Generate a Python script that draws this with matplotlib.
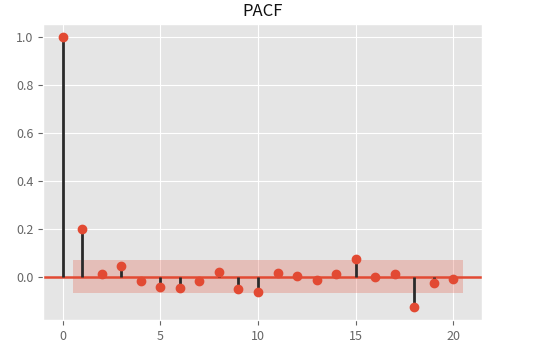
import numpy as np
import matplotlib
matplotlib.use('Agg')
import matplotlib.pyplot as plt

plt.style.use('ggplot')
plt.rcParams['font.family'] = ['Noto Sans CJK SC', 'DejaVu Sans']
plt.rcParams['axes.unicode_minus'] = False

lags = np.arange(21)
pacf = [1.0, 0.199, 0.010, 0.045, -0.017, -0.042, -0.046, -0.017, 0.022, -0.052,
        -0.063, 0.017, 0.004, -0.011, 0.010, 0.073, -0.001, 0.010, -0.127, -0.025, -0.007]
conf = 0.069

fig = plt.figure(figsize=(5.42, 3.55), dpi=100)
ax = fig.add_axes([0.080, 0.0986, 0.810, 0.834])

ax.vlines(lags, 0, pacf, colors='#2a2a2a', lw=2.0, zorder=2)
ax.axhline(0, color='#E24A33', lw=1.8, zorder=1)
ax.plot(lags, pacf, 'o', color='#E24A33', ms=6, zorder=3)
band_x = np.array([0.5, 20.5])
ax.fill_between(band_x, -conf, conf, color='#E24A33', alpha=0.25, lw=0, zorder=1)

ax.set_xlim(-1, 21.5)
ax.set_ylim(-0.18, 1.056)
ax.set_xticks([0, 5, 10, 15, 20])
ax.set_yticks([0.0, 0.2, 0.4, 0.6, 0.8, 1.0])
ax.set_yticklabels(['0.0', '0.2', '0.4', '0.6', '0.8', '1.0'])
ax.tick_params(labelsize=9, colors='#666666')
ax.set_title('PACF', fontsize=12, color='#111111', fontweight='medium', pad=6)

fig.savefig('out.png', dpi=100)
